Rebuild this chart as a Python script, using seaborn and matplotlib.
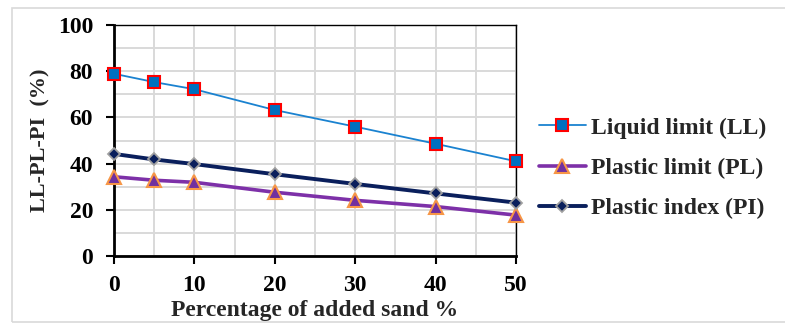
import matplotlib
matplotlib.use("Agg")
import matplotlib.pyplot as plt
from matplotlib.patches import Rectangle
from matplotlib.ticker import MultipleLocator
import pandas as pd
import seaborn as sns

# Atterberg limits versus sand content
sand_pct = [0, 5, 10, 20, 30, 40, 50]
liquid_limit = [78.9, 75.3, 72.2, 63.2, 56.0, 48.6, 41.0]
plastic_limit = [34.3, 32.8, 31.9, 27.6, 24.1, 21.4, 17.7]
plastic_index = [44.2, 41.8, 39.8, 35.4, 31.2, 27.1, 23.1]

series_names = ["Liquid limit (LL)", "Plastic limit (PL)", "Plastic index (PI)"]

sns.set_style("white")
SERIF = ["Liberation Serif", "DejaVu Serif"]
plt.rcParams["font.family"] = SERIF
plt.rcParams["font.weight"] = "bold"

fig = plt.figure(figsize=(7.85, 3.25), dpi=100)
ax = fig.add_axes([0.1452, 0.2123, 0.5121, 0.7107])

# light frame around the whole chart
fig.patches.append(Rectangle((12 / 785, 3 / 325), 1.0, 314 / 325,
                             transform=fig.transFigure, fill=False,
                             edgecolor="#d9d9d9", linewidth=1.2, zorder=0))

styles = [
    dict(color="#1a82d0", lw=1.3, marker="s", ms=9, mfc="#0070c0", mec="#ff0000", mew=1.5),
    dict(color="#7d30a8", lw=2.6, marker="^", ms=10, mfc="#7030a0", mec="#f79646", mew=1.5),
    dict(color="#0a1f5c", lw=2.8, marker="D", ms=6.5, mfc="#0a1f5c", mec="#a0a0a0", mew=1.3),
]
values = [liquid_limit, plastic_limit, plastic_index]

for name, vals, st in zip(series_names, values, styles):
    df = pd.DataFrame({"x": sand_pct, "y": vals})
    sns.lineplot(data=df, x="x", y="y", ax=ax, label=name, color=st["color"],
                 linewidth=st["lw"], marker=st["marker"], markersize=st["ms"],
                 markerfacecolor=st["mfc"], markeredgecolor=st["mec"],
                 markeredgewidth=st["mew"], clip_on=False, zorder=3)

ax.set_xlim(0, 50)
ax.set_ylim(0, 100)
ax.xaxis.set_major_locator(MultipleLocator(10))
ax.xaxis.set_minor_locator(MultipleLocator(5))
ax.yaxis.set_major_locator(MultipleLocator(20))
ax.yaxis.set_minor_locator(MultipleLocator(10))
ax.grid(True, which="both", color="#d9d9d9", linewidth=1.4, zorder=0)
ax.set_axisbelow(True)

for side in ["top", "right"]:
    ax.spines[side].set_visible(True)
    ax.spines[side].set_color("black")
    ax.spines[side].set_linewidth(1.0)
for side in ["left", "bottom"]:
    ax.spines[side].set_color("black")
    ax.spines[side].set_linewidth(2.0)

ax.tick_params(axis="both", which="major", direction="out", length=6, width=1.5,
               labelsize=17, colors="black", left=True, bottom=True)
ax.tick_params(axis="y", which="major", pad=9)
ax.tick_params(axis="x", which="major", pad=8)
ax.tick_params(axis="both", which="minor", length=0)
for lbl in ax.get_xticklabels() + ax.get_yticklabels():
    lbl.set_fontweight("bold")

ax.set_xlabel("Percentage of added sand %", fontsize=17, fontweight="bold")
ax.xaxis.label.set_verticalalignment("baseline")
ax.xaxis.set_label_coords(0.5, -0.26)
ax.set_ylabel("LL-PL-PI  (%)", fontsize=16, fontweight="bold")
ax.yaxis.set_label_coords(-0.157, 0.5)

leg = ax.legend(loc="center left", bbox_to_anchor=(1.004, 0.38), frameon=False,
                labelspacing=0.8, handlelength=2.0, handletextpad=0.2,
                prop={"family": SERIF, "weight": "bold", "size": 17})

fig.savefig("out.png", dpi=100)
